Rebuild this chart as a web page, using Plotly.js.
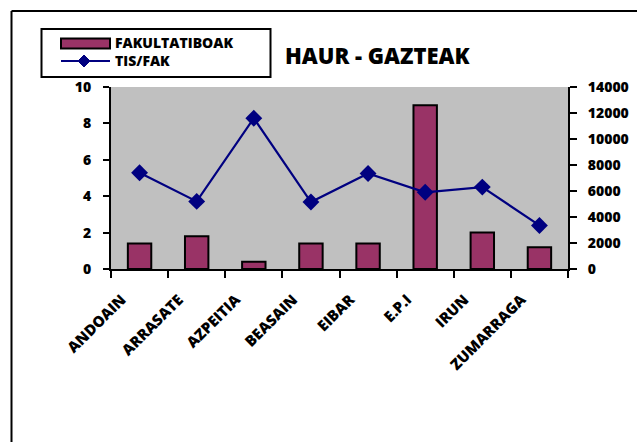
<!DOCTYPE html>
<html>
<head>
<meta charset="utf-8">
<script src="https://cdn.plot.ly/plotly-3.0.1.min.js"></script>
<style>
html,body{margin:0;padding:0;background:#fff;}
#chart{width:637px;height:442px;}
</style>
</head>
<body>
<div id="chart"></div>
<script>
// ---- data ----
const categories = ['ANDOAIN','ARRASATE','AZPEITIA','BEASAIN','EIBAR','E.P.I','IRUN','ZUMARRAGA'];
const fakultatiboak = [1.4, 1.8, 0.4, 1.4, 1.4, 9.0, 2.0, 1.2];
const tisFak = [7400, 5200, 11600, 5150, 7350, 5900, 6300, 3350];
const leftTicks = [0, 2, 4, 6, 8, 10];
const rightTicks = [0, 2000, 4000, 6000, 8000, 10000, 12000, 14000];
const seriesNames = ['FAKULTATIBOAK', 'TIS/FAK'];
const chartTitle = 'HAUR - GAZTEAK';

// ---- styling ----
const FONT = '"Open Sans", "DejaVu Sans", sans-serif';
const BAR_COLOR = '#993366';
const LINE_COLOR = '#000080';
const W = 637, H = 442;
const M = {l: 111, r: 69, t: 87, b: 173};
const PW = W - M.l - M.r, PH = H - M.t - M.b;
const px = x => (x - M.l) / PW;           // pixel -> paper x
const py = y => (H - M.b - y) / PH;        // pixel -> paper y

const n = categories.length;
const boundaries = categories.map((_, i) => i - 0.5).concat([n - 0.5]);

const traces = [
  {
    type: 'bar', name: seriesNames[0], x: categories, y: fakultatiboak,
    marker: {color: BAR_COLOR, line: {color: '#000', width: 2}},
    xaxis: 'x', yaxis: 'y', showlegend: false
  },
  {
    type: 'scatter', mode: 'lines+markers', name: seriesNames[1], x: categories, y: tisFak,
    line: {color: LINE_COLOR, width: 2.2},
    marker: {symbol: 'diamond', size: 13, color: LINE_COLOR},
    xaxis: 'x', yaxis: 'y2', showlegend: false
  }
];

const tickFont = {family: FONT, size: 14, color: '#000', weight: 800};

const layout = {
  width: W, height: H,
  margin: M,
  paper_bgcolor: '#fff',
  plot_bgcolor: '#C0C0C0',
  bargap: 0.59,
  showlegend: false,
  font: {family: FONT, color: '#000'},
  xaxis: {
    type: 'category', categoryarray: categories, categoryorder: 'array',
    range: [-0.5, n - 0.5],
    tickson: 'boundaries', ticks: 'outside', ticklen: 7, tickwidth: 2, tickcolor: '#000',
    showline: true, linecolor: '#000', linewidth: 2,
    showgrid: false, zeroline: false,
    tickangle: -45, tickfont: {family: FONT, size: 15, color: '#000', weight: 800},
    ticklabelstandoff: 14, ticklabelshift: -18
  },
  xaxis2: {
    overlaying: 'x', anchor: 'y', side: 'bottom', type: 'linear',
    range: [-0.5, n - 0.5], tickmode: 'array', tickvals: boundaries,
    ticks: 'inside', ticklen: 6, tickwidth: 2, tickcolor: '#000',
    showticklabels: false, showline: false, showgrid: false, zeroline: false
  },
  yaxis: {
    range: [0, 10], tickmode: 'array', tickvals: leftTicks,
    ticks: 'outside', ticklen: 6, tickwidth: 2, tickcolor: '#000',
    showline: true, linecolor: '#000', linewidth: 2,
    showgrid: false, zeroline: false, tickfont: tickFont, ticklabelstandoff: 9
  },
  yaxis3: {
    overlaying: 'y', anchor: 'x', side: 'left',
    range: [0, 10], tickmode: 'array', tickvals: leftTicks,
    ticks: 'inside', ticklen: 6, tickwidth: 2, tickcolor: '#000',
    showticklabels: false, showline: false, showgrid: false, zeroline: false
  },
  yaxis2: {
    overlaying: 'y', anchor: 'x', side: 'right',
    range: [0, 14000], tickmode: 'array', tickvals: rightTicks, tickformat: 'd',
    ticks: 'outside', ticklen: 7, tickwidth: 2, tickcolor: '#000',
    showline: true, linecolor: '#000', linewidth: 2,
    showgrid: false, zeroline: false, tickfont: tickFont, ticklabelstandoff: 8
  },
  yaxis4: {
    overlaying: 'y', anchor: 'x', side: 'right',
    range: [0, 14000], tickmode: 'array', tickvals: rightTicks,
    ticks: 'inside', ticklen: 6, tickwidth: 2, tickcolor: '#000',
    showticklabels: false, showline: false, showgrid: false, zeroline: false
  },
  shapes: [
    // outer chart-area border (left and top edges visible)
    {type: 'line', xref: 'paper', yref: 'paper', x0: px(11.5), x1: px(11.5), y0: py(11), y1: py(460),
     line: {color: '#000', width: 2}},
    {type: 'line', xref: 'paper', yref: 'paper', x0: px(11.5), x1: px(660), y0: py(11), y1: py(11),
     line: {color: '#000', width: 2}},
    // legend box
    {type: 'rect', xref: 'paper', yref: 'paper', x0: px(41.5), x1: px(270.5), y0: py(29), y1: py(77),
     line: {color: '#000', width: 2}, fillcolor: '#fff'},
    // legend bar swatch
    {type: 'rect', xref: 'paper', yref: 'paper', x0: px(61), x1: px(110), y0: py(38.5), y1: py(48.5),
     line: {color: '#000', width: 2}, fillcolor: BAR_COLOR},
    // legend line
    {type: 'line', xref: 'paper', yref: 'paper', x0: px(61), x1: px(110), y0: py(61), y1: py(61),
     line: {color: LINE_COLOR, width: 2.2}},
    // legend diamond
    {type: 'path', xref: 'paper', yref: 'paper', xsizemode: 'pixel', ysizemode: 'pixel',
     xanchor: px(84), yanchor: py(61), path: 'M0,6 L6,0 L0,-6 L-6,0 Z',
     line: {color: LINE_COLOR, width: 1}, fillcolor: LINE_COLOR}
  ],
  annotations: [
    {xref: 'paper', yref: 'paper', x: px(377.5), y: py(55), text: chartTitle, showarrow: false,
     xanchor: 'center', yanchor: 'middle', font: {family: FONT, size: 22, color: '#000', weight: 800}},
    {xref: 'paper', yref: 'paper', x: px(114), y: py(51.5), text: seriesNames.join('<br>'), showarrow: false,
     xanchor: 'left', yanchor: 'middle', align: 'left', borderpad: 0,
     font: {family: FONT, size: 14, color: '#000', weight: 800}}
  ]
};

Plotly.newPlot('chart', traces, layout, {staticPlot: true, displayModeBar: false});
</script>
</body>
</html>
